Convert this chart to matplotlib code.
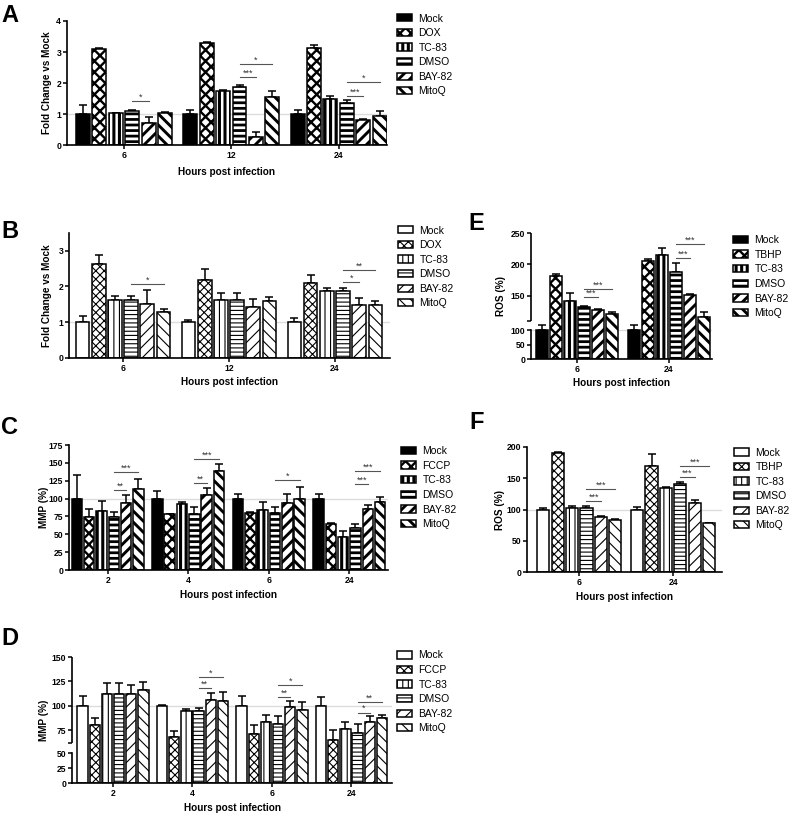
import numpy as np
import matplotlib
matplotlib.use("Agg")
import matplotlib.pyplot as plt

plt.rcParams.update({
    "font.family": ["Liberation Sans", "DejaVu Sans"],
    "axes.spines.top": False,
    "axes.spines.right": False,
    "axes.linewidth": 1.2,
    "xtick.major.width": 1.1,
    "ytick.major.width": 1.1,
    "ytick.minor.width": 1.1,
    "xtick.major.size": 3,
    "ytick.major.size": 3,
    "ytick.minor.size": 3,
    "hatch.linewidth": 0.8,
})

W, H = 800, 822

# ---------------------------------------------------------------
# data
# ---------------------------------------------------------------
hours_A = ["6", "12", "24"]
labels_A = ["Mock", "DOX", "TC-83", "DMSO", "BAY-82", "MitoQ"]
mean_A = [[1.00, 3.10, 1.02, 1.10, 0.70, 1.03],
          [1.00, 3.30, 1.73, 1.88, 0.25, 1.55],
          [1.00, 3.13, 1.48, 1.35, 0.80, 0.93]]
err_A = [[0.30, 0.02, 0.02, 0.04, 0.20, 0.04],
         [0.13, 0.02, 0.05, 0.06, 0.18, 0.20],
         [0.12, 0.08, 0.10, 0.09, 0.03, 0.17]]
sig_A = [(0, 3, 4, 1.43, "*"), (1, 3, 4, 2.18, "***"), (1, 3, 5, 2.60, "*"),
         (2, 3, 4, 1.59, "***"), (2, 3, 5, 2.02, "*")]

hours_B = ["6", "12", "24"]
labels_B = ["Mock", "DOX", "TC-83", "DMSO", "BAY-82", "MitoQ"]
mean_B = [[1.00, 2.63, 1.62, 1.62, 1.52, 1.28],
          [1.00, 2.18, 1.62, 1.62, 1.43, 1.60],
          [1.00, 2.10, 1.88, 1.88, 1.49, 1.49]]
err_B = [[0.18, 0.25, 0.11, 0.11, 0.37, 0.10],
         [0.07, 0.30, 0.20, 0.20, 0.22, 0.11],
         [0.12, 0.22, 0.07, 0.07, 0.19, 0.09]]
sig_B = [(0, 3, 5, 2.08, "*"), (2, 3, 4, 2.12, "*"), (2, 3, 5, 2.45, "**")]

hours_C = ["2", "4", "6", "24"]
labels_C = ["Mock", "FCCP", "TC-83", "DMSO", "BAY-82", "MitoQ"]
mean_C = [[100, 74.7, 83.0, 74.7, 94.0, 113.0],
          [100, 78.4, 92.4, 78.4, 104.5, 138.6],
          [100, 80.3, 84.0, 80.3, 93.3, 99.9],
          [100, 64.0, 46.7, 58.3, 85.4, 94.7]]
err_C = [[33.0, 11.0, 13.6, 7.0, 10.5, 15.0],
         [10.0, 0.6, 3.3, 10.3, 9.8, 9.8],
         [7.0, 1.4, 10.7, 7.4, 12.7, 16.8],
         [6.0, 1.3, 7.9, 6.1, 5.6, 8.0]]
sig_C = [(0, 3, 4, 112.0, "**"), (0, 3, 5, 137.7, "***"),
         (1, 3, 4, 121.3, "**"), (1, 3, 5, 155.4, "***"),
         (2, 3, 5, 126.0, "*"),
         (3, 3, 4, 120.0, "***"), (3, 3, 5, 138.6, "***")]

hours_D = ["2", "4", "6", "24"]
labels_D = ["Mock", "FCCP", "TC-83", "DMSO", "BAY-82", "MitoQ"]
mean_D = [[100, 80.0, 112.0, 112.0, 112.0, 116.0],
          [100, 68.0, 95.0, 95.0, 106.0, 105.0],
          [100, 70.7, 83.5, 81.8, 99.3, 95.3],
          [100, 65.0, 76.5, 72.7, 83.5, 87.2]]
err_D = [[10.0, 8.0, 11.0, 11.0, 9.0, 8.0],
         [1.0, 6.0, 2.0, 3.0, 7.0, 9.0],
         [10.0, 10.0, 7.5, 7.4, 6.1, 8.4],
         [9.4, 10.0, 7.5, 8.5, 5.7, 3.0]]
sig_D = [(1, 3, 4, 117.8, "**"), (1, 3, 5, 129.6, "*"),
         (2, 3, 4, 109.4, "**"), (2, 3, 5, 121.0, "*"),
         (3, 3, 4, 93.2, "*"), (3, 3, 5, 104.4, "**")]

hours_E = ["6", "24"]
labels_E = ["Mock", "TBHP", "TC-83", "DMSO", "BAY-82", "MitoQ"]
mean_E = [[100, 180.9, 142.0, 132.0, 127.7, 120.7],
          [100, 205.9, 215.4, 188.3, 151.6, 117.0]]
err_E = [[6.0, 3.7, 13.3, 2.0, 2.1, 3.8],
         [6.0, 2.6, 10.6, 14.7, 1.1, 7.0]]
sig_E = [(0, 3, 4, 148.4, "***"), (0, 3, 5, 161.0, "***"),
         (1, 3, 4, 209.6, "***"), (1, 3, 5, 232.0, "***")]

hours_F = ["6", "24"]
labels_F = ["Mock", "TBHP", "TC-83", "DMSO", "BAY-82", "MitoQ"]
mean_F = [[100, 190.0, 103.0, 103.0, 87.5, 84.0],
          [100, 169.0, 133.7, 140.6, 110.9, 78.0]]
err_F = [[2.5, 2.0, 2.0, 2.0, 2.5, 0.8],
         [4.0, 20.0, 2.6, 3.7, 4.0, 0.8]]
sig_F = [(0, 3, 4, 113.5, "***"), (0, 3, 5, 132.0, "***"),
         (1, 3, 4, 151.0, "***"), (1, 3, 5, 169.0, "***")]

# bar styles: (face, hatch, hatch linewidth)
DARK = [("black", None, 2.0), ("white", "xxx", 1.7), ("white", "|||", 2.2),
        ("white", "---", 2.0), ("white", "///", 2.1), ("white", "\\\\\\", 2.1)]
LIGHT = [("white", None, 0.8), ("white", "xxxx", 0.8), ("white", "|||", 0.8),
         ("white", "----", 0.8), ("white", "///", 0.8), ("white", "\\\\\\", 0.8)]

SLOT = 0.153
BAR_W = 0.13

fig = plt.figure(figsize=(W / 100, H / 100), dpi=100)


def add_ax(left, right, top, bottom):
    return fig.add_axes([left / W, 1 - bottom / H, (right - left) / W, (bottom - top) / H])


def hatch_width(patch, lw):
    # try every route matplotlib may use for the hatch line width
    if hasattr(patch, "set_hatch_linewidth"):
        patch.set_hatch_linewidth(lw)
    patch._hatch_linewidth = lw
    orig = patch.draw

    def draw(renderer):
        with matplotlib.rc_context({"hatch.linewidth": lw}):
            orig(renderer)
    patch.draw = draw


def piecewise(vals, pos):
    vals = np.asarray(vals, float)
    pos = np.asarray(pos, float)
    s_lo = (pos[1] - pos[0]) / (vals[1] - vals[0])
    s_hi = (pos[-1] - pos[-2]) / (vals[-1] - vals[-2])

    def fwd(y):
        y = np.asarray(y, float)
        out = np.interp(y, vals, pos)
        out = np.where(y < vals[0], pos[0] + (y - vals[0]) * s_lo, out)
        return np.where(y > vals[-1], pos[-1] + (y - vals[-1]) * s_hi, out)

    def inv(p):
        p = np.asarray(p, float)
        out = np.interp(p, pos, vals)
        out = np.where(p < pos[0], vals[0] + (p - pos[0]) / s_lo, out)
        return np.where(p > pos[-1], vals[-1] + (p - pos[-1]) / s_hi, out)

    return fwd, inv


def panel(box, hours, labels, means, errs, sigs, dark, ylim, yticks, ref,
          ylabel, letter, legend_xy, ylabel_x, xlabel_y, xlim, brk=None):
    left, right, top, bottom = box
    ax = add_ax(left, right, top, bottom)
    if brk is not None:
        ax.set_yscale("function", functions=piecewise(*brk))
    means = np.asarray(means, float)
    errs = np.asarray(errs, float)
    ng, nb = means.shape
    centers = np.arange(ng)
    styles = DARK if dark else LIGHT
    for k in range(nb):
        xs = centers + (k - (nb - 1) / 2) * SLOT
        face, hatch, hlw = styles[k]
        with matplotlib.rc_context({"hatch.linewidth": hlw}):
            bars = ax.bar(xs, means[:, k], BAR_W, color=face, edgecolor="black",
                          linewidth=1.1, hatch=hatch, label=labels[k], zorder=2)
        if hatch:
            for b in bars:
                hatch_width(b, hlw)
        ax.errorbar(xs, means[:, k], yerr=[np.zeros(ng), errs[:, k]], fmt="none",
                    ecolor="black", elinewidth=1.1, capsize=3.2, capthick=1.1, zorder=1.5)
    ax.axhline(ref, color="#dcdcdc", lw=1.0, zorder=0.5)

    for g, i, j, y, txt in sigs:
        x1 = g + (i - (nb - 1) / 2) * SLOT
        x2 = g + (j - (nb - 1) / 2) * SLOT
        ax.plot([x1, x2], [y, y], color="#555555", lw=0.8, zorder=3)
        ax.annotate(txt, ((x1 + x2) / 2, y), xytext=(0, -0.5), textcoords="offset points",
                    ha="center", va="bottom", fontsize=6.5, color="#333333")

    ax.set_xlim(*xlim)
    ax.set_ylim(*ylim)
    ax.set_xticks(centers)
    ax.set_xticklabels(hours, fontsize=6.2, fontweight="bold")
    ax.set_yticks(yticks)
    ax.set_yticklabels([f"{t:g}" for t in yticks], fontsize=6.2, fontweight="bold")
    ax.tick_params(axis="both", pad=1.2)

    if brk is not None:
        lo_top, hi_bot = brk[0][1], brk[0][2]
        ax.spines["left"].set_bounds(ylim[0], lo_top)
        ax.plot([0, 0], [hi_bot, ylim[1]], transform=ax.get_yaxis_transform(),
                color="black", lw=1.2, clip_on=False, solid_capstyle="butt")
        ax.set_yticks([hi_bot], minor=True)
        ax.yaxis.set_minor_formatter(plt.NullFormatter())

    ax.set_xlabel("Hours post infection", fontsize=7.2, fontweight="bold", va="center")
    ax.set_ylabel(ylabel, fontsize=7.2, fontweight="bold", va="center")
    ax.xaxis.set_label_coords(0.5, (bottom - xlabel_y) / (bottom - top))
    ax.yaxis.set_label_coords((ylabel_x - left) / (right - left), 0.5)

    lx, ly = legend_xy
    with matplotlib.rc_context({"hatch.linewidth": styles[2][2]}):
        leg = ax.legend(loc="upper left", bbox_to_anchor=(lx / W, 1 - (ly - 6.5) / H),
                        bbox_transform=fig.transFigure, frameon=False, fontsize=7.5,
                        borderpad=0, borderaxespad=0, handlelength=1.45, handleheight=0.7,
                        handletextpad=0.6, labelspacing=0.44)
    for p, (face, hatch, hlw) in zip(leg.get_patches(), styles):
        if hatch:
            hatch_width(p, hlw)

    fig.text(letter[1] / W, 1 - letter[2] / H, letter[0], fontsize=17, fontweight="bold",
             ha="left", va="center")
    return ax


panel((67, 387, 21, 145), hours_A, labels_A, mean_A, err_A, sig_A, True,
      (0, 4), [0, 1, 2, 3, 4], 1, "Fold Change vs Mock", ("A", 1, 15),
      (397, 20), 47, 172, (-0.53, 2.45))

panel((69, 390, 233, 357.7), hours_B, labels_B, mean_B, err_B, sig_B, False,
      (0, 3.5), [0, 1, 2, 3], 1, "Fold Change vs Mock", ("B", 1, 231),
      (398, 232), 46.5, 382, (-0.51, 2.52))

panel((69, 388, 445, 570), hours_C, labels_C, mean_C, err_C, sig_C, True,
      (0, 175), [0, 25, 50, 75, 100, 125, 150, 175], 100, "MMP (%)", ("C", 1, 427),
      (401, 452.7), 44, 594.5, (-0.48, 3.48))

panel((72, 392, 657, 783), hours_D, labels_D, mean_D, err_D, sig_D, False,
      (0, 150), [0, 25, 50, 75, 100, 125, 150], 100, "MMP (%)", ("D", 1, 638),
      (397, 657), 44, 808, (-0.515, 3.51),
      brk=([0, 50, 62, 150], [0, 30, 40, 126]))

panel((531, 712, 233, 359), hours_E, labels_E, mean_E, err_E, sig_E, True,
      (0, 250), [0, 50, 100, 150, 200, 250], 100, "ROS (%)", ("E", 468, 223),
      (733, 241.7), 501, 382.5, (-0.505, 1.47),
      brk=([0, 100, 110, 250], [0, 29, 38, 126]))

panel((527, 722, 446.7, 572.3), hours_F, labels_F, mean_F, err_F, sig_F, False,
      (0, 200), [0, 50, 100, 150, 200], 100, "ROS (%)", ("F", 469, 422),
      (734, 454), 500, 596.5, (-0.556, 1.52))

fig.savefig("out.png", dpi=100)
